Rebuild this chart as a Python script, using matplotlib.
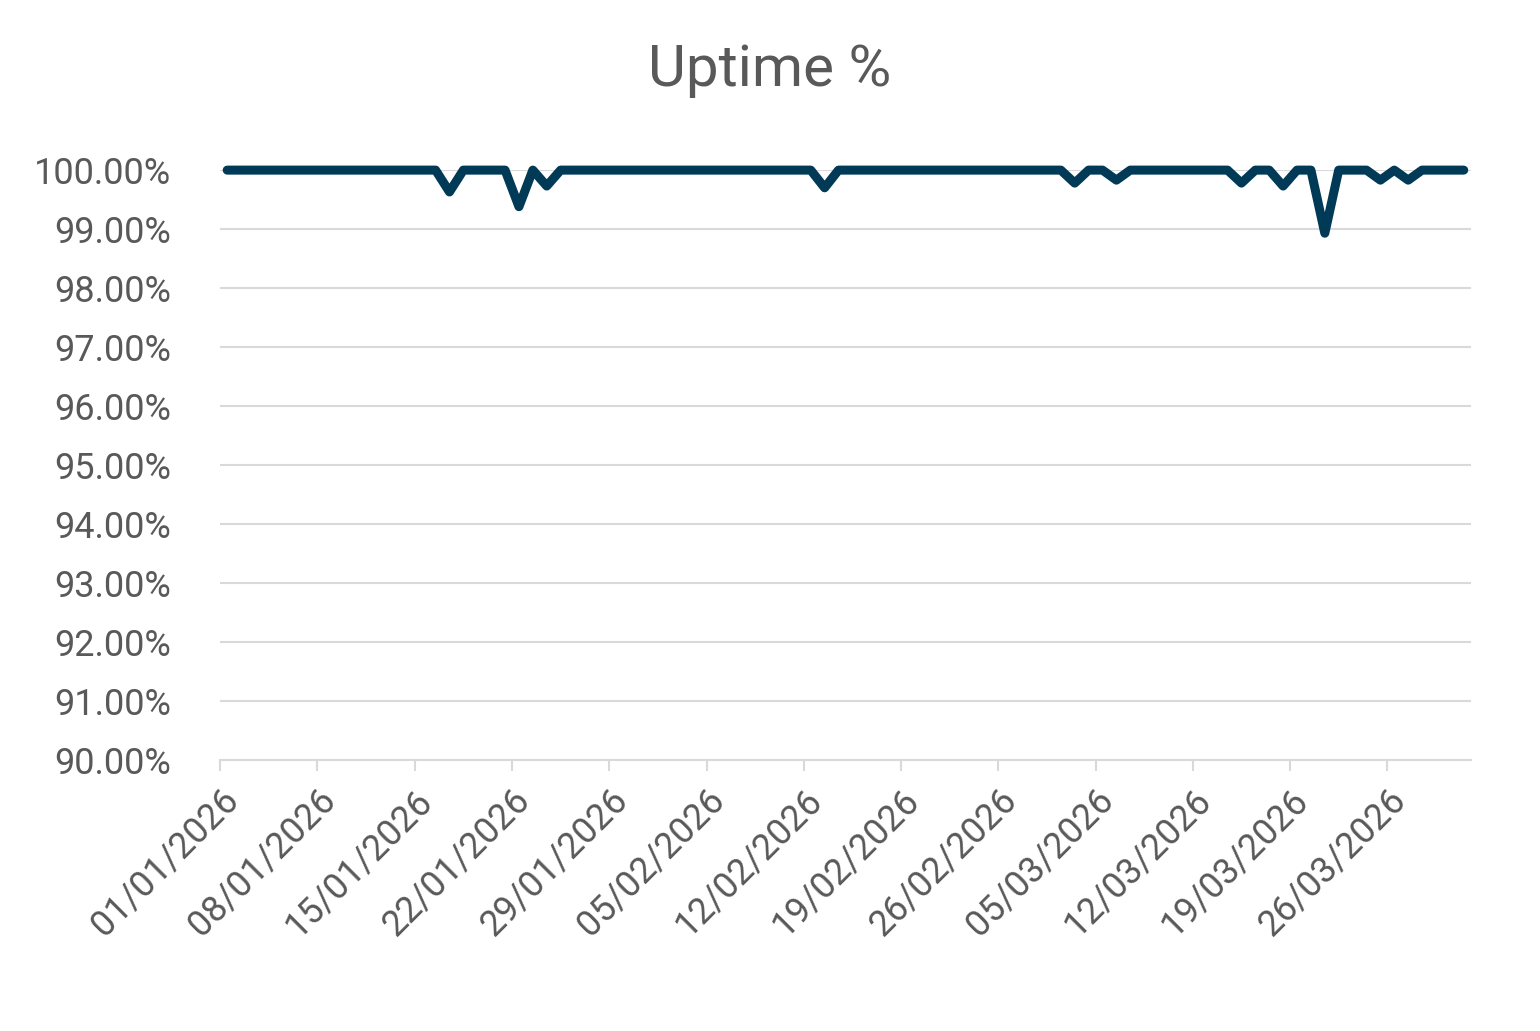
import matplotlib
matplotlib.use("Agg")
import matplotlib.pyplot as plt
import numpy as np
import datetime as dt

start = dt.date(2026, 1, 1)
n_days = 90
dip_days = [16, 21, 23, 43, 61, 64, 73, 76, 79, 83, 85]
dip_values = [99.63, 99.38, 99.73, 99.70, 99.78, 99.83, 99.78, 99.73, 98.93, 99.83, 99.83]
uptime = [100.0] * n_days
for d, v in zip(dip_days, dip_values):
    uptime[d] = v
tick_days = list(range(0, 85, 7))
tick_labels = [(start + dt.timedelta(days=d)).strftime("%d/%m/%Y") for d in tick_days]

plt.rcParams['font.family'] = ['Roboto', 'DejaVu Sans']
fig = plt.figure(figsize=(15.4, 10.31), dpi=100)
ax = fig.add_axes([0.143, 0.263, 0.812, 0.572])
gray = '#595959'
xs = np.arange(n_days) + 0.5
ax.plot(xs, uptime, color='#003A57', lw=6.5, solid_joinstyle='round', solid_capstyle='round', zorder=3, clip_on=False)
ax.set_ylim(90, 100)
ax.set_xlim(0, 90)
ax.set_yticks(range(90, 101))
ax.set_yticklabels([f"{v:.2f}%" for v in range(90, 101)], fontsize=26, color=gray)
ax.set_xticks(tick_days)
ax.set_xticklabels(tick_labels, rotation=45, ha='right', rotation_mode='anchor', fontsize=26, color=gray)
ax.grid(axis='y', color='#d9d9d9', lw=1.5)
ax.set_axisbelow(True)
for s in ['top', 'right', 'left']:
    ax.spines[s].set_visible(False)
ax.spines['bottom'].set_color('#d9d9d9')
ax.spines['bottom'].set_linewidth(1.5)
ax.tick_params(axis='y', length=0, pad=35)
ax.tick_params(axis='x', length=8, color='#d9d9d9', width=1.5, pad=8)
fig.text(0.5, 0.932, "Uptime %", ha='center', va='center', fontsize=42, color=gray)
fig.savefig("out.png", dpi=100)
